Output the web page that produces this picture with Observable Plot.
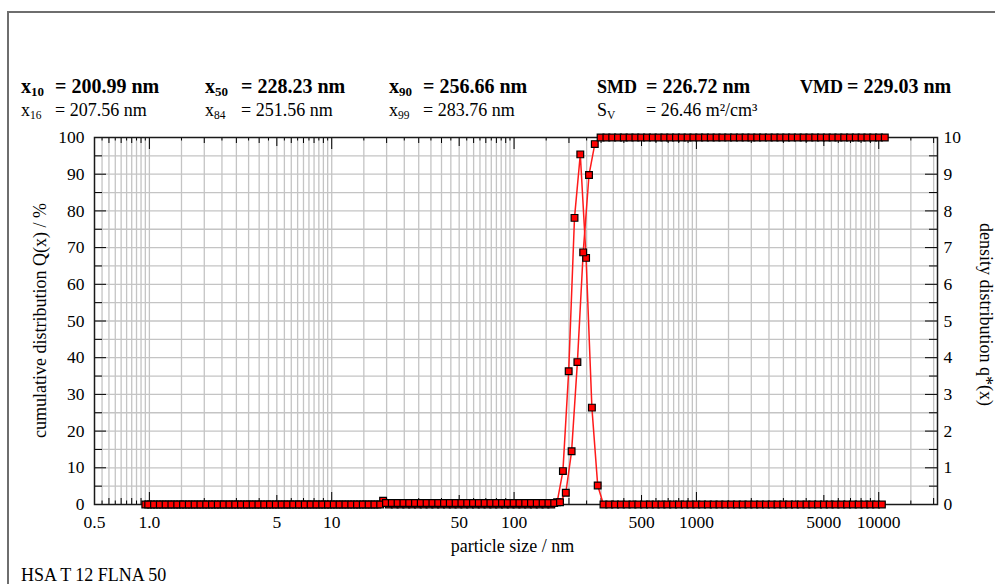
<!DOCTYPE html>
<html><head><meta charset="utf-8">
<script src="https://cdn.jsdelivr.net/npm/d3@7"></script>
<script src="https://cdn.jsdelivr.net/npm/@observablehq/plot@0.6"></script>
<style>
body{margin:0;background:#fff;}
#wrap{position:relative;width:995px;height:584px;overflow:hidden;font-family:"Liberation Serif","Times New Roman",serif;color:#000;background:#fff;}
#border{position:absolute;left:7px;top:11px;width:1000px;height:600px;border-left:2px solid #6e6e6e;border-top:2px solid #6e6e6e;}
#chart{position:absolute;left:0;top:0;}
.t{position:absolute;white-space:nowrap;line-height:1;}
.b{font-weight:bold;font-size:20px;}
.b.n{font-size:18px;}
.r{font-size:18px;}
.b sub{font-size:13px;vertical-align:-3px;line-height:0;}
.r sub{font-size:11.5px;vertical-align:-3px;line-height:0;}
</style></head>
<body><div id="wrap"><div id="border"></div><div id="chart"></div></div>
<script>
// size classes (upper edges) for cumulative distribution Q(x), nm
const sizesQ = [
0.9851,1.060,1.141,1.227,1.320,1.421,1.529,1.645,1.770,1.904,
2.049,2.205,2.372,2.553,2.747,2.955,3.180,3.422,3.682,3.961,
4.262,4.586,4.935,5.310,5.713,6.147,6.614,7.117,7.658,8.240,
8.866,9.540,10.26,11.04,11.88,12.79,13.76,14.80,15.93,17.14,
18.44,19.84,21.35,22.97,24.72,26.60,28.62,30.79,33.13,35.65,
38.36,41.28,44.41,47.79,51.42,55.33,59.53,64.05,68.92,74.16,
79.79,85.86,92.38,99.40,107.0,115.1,123.8,133.2,143.4,154.3,
166.0,178.6,192.2,206.8,222.5,239.4,257.6,277.1,298.2,320.9,
345.3,371.5,399.7,430.1,462.8,497.9,535.8,576.5,620.3,667.4,
718.2,772.7,831.5,894.6,962.6,1036,1114,1199,1290,1388,
1494,1607,1730,1861,2002,2155,2318,2494,2684,2888,
3107,3343,3598,3871,4165,4482,4822,5189,5583,6007,
6464,6955,7483,8052,8664,9322,10030,10793];
// cumulative distribution Q(x) / %
const cumQ = [
0,0,0,0,0,0,0,0,0,0,
0,0,0,0,0,0,0,0,0,0,
0,0,0,0,0,0,0,0,0,0,
0,0,0,0,0,0,0,0,0,0,
0,0.4,0.4,0.4,0.4,0.4,0.4,0.4,0.4,0.4,
0.4,0.4,0.4,0.4,0.4,0.4,0.4,0.4,0.4,0.4,
0.4,0.4,0.4,0.4,0.4,0.4,0.4,0.4,0.4,0.4,
0.4,0.6,3.2,14.5,38.8,68.7,89.8,98.2,100,100,
100,100,100,100,100,100,100,100,100,100,
100,100,100,100,100,100,100,100,100,100,
100,100,100,100,100,100,100,100,100,100,
100,100,100,100,100,100,100,100,100,100,
100,100,100,100,100,100,100,100];
// class centres for density distribution q*(x), nm
const sizesq = [
0.9497,1.022,1.100,1.183,1.273,1.370,1.474,1.586,1.706,1.836,
1.975,2.126,2.287,2.461,2.648,2.849,3.066,3.299,3.549,3.819,
4.109,4.421,4.757,5.119,5.508,5.926,6.377,6.861,7.383,7.944,
8.547,9.197,9.896,10.65,11.46,12.33,13.26,14.27,15.36,16.52,
17.78,19.13,20.58,22.15,23.83,25.64,27.59,29.69,31.94,34.37,
36.98,39.79,42.82,46.07,49.57,53.34,57.39,61.75,66.44,71.49,
76.93,82.77,89.06,95.83,103.1,110.9,119.4,128.4,138.2,148.7,
160.0,172.2,185.3,199.3,214.5,230.8,248.3,267.2,287.5,309.3,
332.8,358.1,385.4,414.6,446.1,480.0,516.5,555.8,598.0,643.4,
692.3,745.0,801.6,862.5,928.0,998.5,1074,1156,1244,1338,
1440,1550,1667,1794,1930,2077,2235,2405,2587,2784,
2996,3223,3468,3732,4015,4320,4649,5002,5382,5791,
6231,6705,7214,7762,8352,8987,9670,10404];
// density distribution q*(x)
const densq = [
0,0,0,0,0,0,0,0,0,0,
0,0,0,0,0,0,0,0,0,0,
0,0,0,0,0,0,0,0,0,0,
0,0,0,0,0,0,0,0,0,0,
0,0.1,0,0,0,0,0,0,0,0,
0,0,0,0,0,0,0,0,0,0,
0,0,0,0,0,0,0,0,0,0,
0,0.06,0.91,3.63,7.81,9.54,6.72,2.64,0.52,0,
0,0,0,0,0,0,0,0,0,0,
0,0,0,0,0,0,0,0,0,0,
0,0,0,0,0,0,0,0,0,0,
0,0,0,0,0,0,0,0,0,0,
0,0,0,0,0,0,0,0];

const xTickValues = [0.5,1,5,10,50,100,500,1000,5000,10000];
const xTickLabels = ["0.5","1.0","5","10","50","100","500","1000","5000","10000"];
const yLeftTicks = [0,10,20,30,40,50,60,70,80,90,100];
const yRightTicks = [0,1,2,3,4,5,6,7,8,9,10];

const statsRow1 = [
  {name:"x", sub:"10", value:"= 200.99 nm", x:21, ex:55},
  {name:"x", sub:"50", value:"= 228.23 nm", x:205, ex:241},
  {name:"x", sub:"90", value:"= 256.66 nm", x:389, ex:423},
  {name:"SMD", sub:"", value:"= 226.72 nm", x:597, ex:646},
  {name:"VMD", sub:"", value:"= 229.03 nm", x:800, ex:847}];
const statsRow2 = [
  {name:"x", sub:"16", value:"= 207.56 nm", x:21, ex:55},
  {name:"x", sub:"84", value:"= 251.56 nm", x:205, ex:241},
  {name:"x", sub:"99", value:"= 283.76 nm", x:389, ex:423},
  {name:"S", sub:"V", value:"= 26.46 m²/cm³", x:597, ex:646}];
const caption = "HSA T 12 FLNA 50";

const W = 995, H = 584, mL = 94, mR = 58, mT = 137, mB = 80;
const pw = W - mL - mR, ph = H - mT - mB;
const X0 = 0.5, X1 = 21000;
const xAt = px => Math.pow(10, Math.log10(X0) + (px - mL) / pw * Math.log10(X1 / X0));
const yAt = py => (H - mB - py) / ph * 100;

// log axis tick positions
const decadeT = [1,10,100,1000,10000], fiveT = [5,50,500,5000], intT = [], halfT = [];
for (const p of [0.1,1,10,100,1000,10000]) {
  for (let m = 2; m < 10; m++) { const v = +(m*p).toPrecision(6); if (m !== 5 && v > X0 && v < X1) intT.push(v); }
  for (let m = 1.5; m < 10; m += 1) { const v = +(m*p).toPrecision(6); if (v > X0 && v < X1) halfT.push(v); }
}
const gridX = [...decadeT, ...fiveT, ...intT, ...halfT];
const gridY = d3.range(5, 100, 5);
const majorY = d3.range(10, 100, 10);
const minorY = d3.range(5, 100, 10);

const cumData = sizesQ.map((s, i) => ({x: s, y: cumQ[i]}));
const densData = sizesq.map((s, i) => ({x: s, y: densq[i] * 10}));

const red = "#ff1a1a";
const plot = Plot.plot({
  width: W, height: H, marginLeft: mL, marginRight: mR, marginTop: mT, marginBottom: mB,
  x: {type: "log", domain: [X0, X1], axis: null},
  y: {domain: [0, 100], axis: null},
  style: {fontFamily: '"Liberation Serif","Times New Roman",serif', color: "#000", background: "transparent", overflow: "visible"},
  marks: [
    Plot.ruleX(gridX, {x: d => d, stroke: "#c4c4c4", strokeWidth: 1.3}),
    Plot.ruleY(gridY, {y: d => d, stroke: "#c4c4c4", strokeWidth: 1.3}),
    ...[[decadeT, 12], [fiveT, 9], [intT, 6], [halfT, 3.5]].flatMap(([vals, len]) => [
      Plot.tickX(vals, {x: d => d, stroke: "#000", insetBottom: ph - len}),
      Plot.tickX(vals, {x: d => d, stroke: "#000", insetTop: ph - len})
    ]),
    ...[[majorY, 12], [minorY, 8]].flatMap(([vals, len]) => [
      Plot.tickY(vals, {y: d => d, stroke: "#000", insetRight: pw - len}),
      Plot.tickY(vals, {y: d => d, stroke: "#000", insetLeft: pw - len})
    ]),
    Plot.frame({stroke: "#1a1a1a", strokeWidth: 1.5}),
    Plot.line(densData, {x: "x", y: "y", stroke: red, strokeWidth: 1.5}),
    Plot.line(cumData, {x: "x", y: "y", stroke: red, strokeWidth: 1.5}),
    Plot.dot(densData, {x: "x", y: "y", symbol: "square", r: 3.8, fill: "#ff0000", stroke: "#000", strokeWidth: 1.2}),
    Plot.dot(cumData, {x: "x", y: "y", symbol: "square", r: 3.8, fill: "#ff0000", stroke: "#000", strokeWidth: 1.2}),
    Plot.text(xTickValues, {x: d => d, y: 0, dy: 17.5, text: (d, i) => xTickLabels[i], fontSize: 17.5, fill: "#000"}),
    Plot.text(yLeftTicks, {x: X0, y: d => d, dx: -10, textAnchor: "end", text: d => String(d), fontSize: 17.5, fill: "#000"}),
    Plot.text(yRightTicks, {x: X1, y: d => d * 10, dx: 6, textAnchor: "start", text: d => String(d), fontSize: 17.5, fill: "#000"}),
    Plot.text(["particle size / nm"], {x: xAt(512), y: yAt(546), text: d => d, fontSize: 18, fill: "#000"}),
    Plot.text(["cumulative distribution Q(x) / %"], {x: xAt(40), y: yAt(320), text: d => d, rotate: -90, fontSize: 18, fill: "#000"}),
    Plot.text(["density distribution q*(x)"], {x: xAt(985), y: yAt(314), text: d => d, rotate: 90, fontSize: 18, fill: "#000"})
  ]
});
document.getElementById("chart").appendChild(plot);

const wrap = document.getElementById("wrap");
function addText(cls, left, top, html) {
  const d = document.createElement("div");
  d.className = "t " + cls;
  d.style.left = left + "px";
  d.style.top = top + "px";
  d.innerHTML = html;
  wrap.appendChild(d);
}
for (const s of statsRow1) {
  const nameCls = s.sub ? "b" : "b n";
  addText(nameCls, s.x, s.sub ? 76 : 77.5, s.name + (s.sub ? "<sub>" + s.sub + "</sub>" : ""));
  addText("b", s.ex, 76, s.value);
}
for (const s of statsRow2) {
  addText("r", s.x, 101, s.name + (s.sub ? "<sub>" + s.sub + "</sub>" : ""));
  addText("r", s.ex, 101, s.value);
}
addText("r", 21, 566, caption);
</script>
</body></html>
